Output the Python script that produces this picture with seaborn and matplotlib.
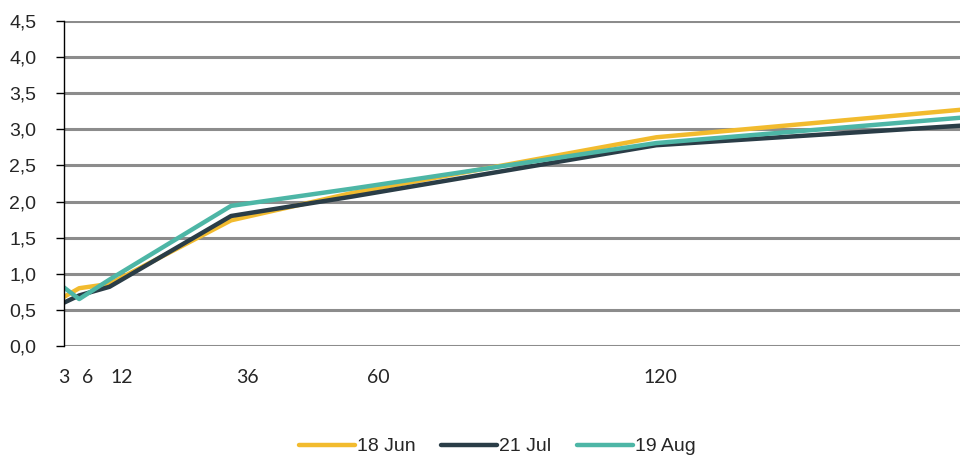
import matplotlib
matplotlib.use("Agg")
import matplotlib.pyplot as plt
import numpy as np
import pandas as pd
import seaborn as sns

# maturities in months
months = [3, 6, 12, 36, 60, 120, 180]
jun_18 = [0.68, 0.80, 0.86, 1.74, 2.12, 2.89, 3.27]
jul_21 = [0.60, 0.70, 0.82, 1.80, 2.07, 2.78, 3.05]
aug_19 = [0.81, 0.65, 0.92, 1.94, 2.18, 2.81, 3.16]
series = ["18 Jun", "21 Jul", "19 Aug"]
colors = ["#F2BB2E", "#2A3D47", "#4DB6A6"]

x_ticks = [3, 6, 12, 36, 60, 120]
# the original labels sit a bit right of their points (px)
x_label_shift = [0, 8, 12, 16, 26, 4]
y_ticks = np.arange(0, 4.51, 0.5)

df = pd.DataFrame({
    "Months": months * 3,
    "Yield": jun_18 + jul_21 + aug_19,
    "Curve": [series[0]] * 7 + [series[1]] * 7 + [series[2]] * 7,
})

sns.set_style("white")
plt.rcParams["font.family"] = ["Liberation Sans", "DejaVu Sans"]

fig = plt.figure(figsize=(9.6, 4.57), dpi=100)
ax = fig.add_axes([64 / 960, 1 - 346 / 457, 1 - 64 / 960, 325 / 457])

for y in y_ticks:
    ax.axhline(y, color="#8C8C8C", lw=2.2, zorder=1)

p = sns.lineplot(data=df, x="Months", y="Yield", hue="Curve", hue_order=series,
                 palette=colors, lw=3.2, ax=ax, legend=False, zorder=3)

ax.set_xlim(3, 180)
ax.set_ylim(0, 4.5)
ax.set_yticks(y_ticks)
ax.set_yticklabels([f"{v:.1f}".replace(".", ",") for v in y_ticks], fontsize=14,
                   family=["Liberation Sans", "DejaVu Sans"])
ax.set_xticks(x_ticks)
ax.set_xticklabels([])
for v, dx in zip(x_ticks, x_label_shift):
    ax.annotate(str(v), xy=(v, 0), xycoords=("data", "axes fraction"),
                xytext=(dx * 0.72, -23), textcoords="offset points",
                ha="center", va="center", fontsize=14, family=["Lato", "DejaVu Sans"])
ax.tick_params(axis="x", length=0)
ax.tick_params(axis="y", length=6, width=1, color="black", pad=14, direction="out", left=True)
ax.set_xlabel("")
ax.set_ylabel("")
for s in ["top", "right", "bottom"]:
    ax.spines[s].set_visible(False)
ax.spines["left"].set_color("black")
ax.spines["left"].set_linewidth(1)
ax.spines["left"].set_zorder(4)

handles = [plt.Line2D([0], [0], color=c, lw=3.2, solid_capstyle="round") for c in colors]
fig.legend(handles, series, loc="lower center", bbox_to_anchor=(0.518, -0.035), ncol=3,
           frameon=False, fontsize=14, handlelength=2.9, handletextpad=0.1, columnspacing=1.3)

plt.savefig("out.png", dpi=100)
